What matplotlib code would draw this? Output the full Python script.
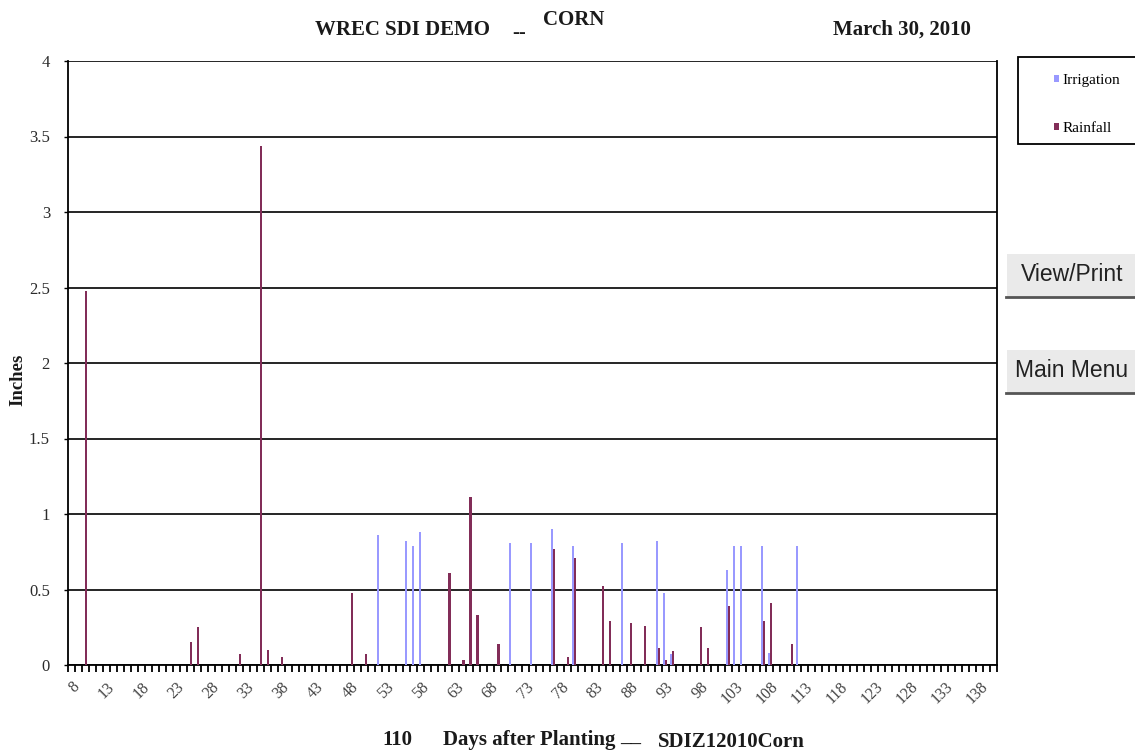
import numpy as np
import matplotlib
matplotlib.use("Agg")
import matplotlib.pyplot as plt
from matplotlib.patches import Rectangle, Patch

W, H = 1135, 752

# days after planting shown on the category axis
days = list(range(8, 141))

irrigation_days = [52, 56, 57, 58, 71, 74, 77, 80, 87, 92, 93, 94, 102, 103, 104, 107, 108, 112]
irrigation_inches = [0.86, 0.82, 0.79, 0.88, 0.81, 0.81, 0.90, 0.79, 0.81, 0.82, 0.48, 0.07,
                     0.63, 0.79, 0.79, 0.79, 0.08, 0.79]

rainfall_days = [10, 25, 26, 32, 35, 36, 38, 48, 50, 62, 64, 65, 66, 69, 77, 79, 80, 84, 85,
                 88, 90, 92, 93, 94, 98, 99, 102, 107, 108, 111]
rainfall_inches = [2.48, 0.15, 0.25, 0.07, 3.44, 0.10, 0.05, 0.48, 0.07, 0.61, 0.03, 1.11, 0.33,
                   0.14, 0.77, 0.05, 0.71, 0.52, 0.29, 0.28, 0.26, 0.11, 0.03, 0.09, 0.25, 0.11,
                   0.39, 0.29, 0.41, 0.14]

y_ticks = [0, 0.5, 1, 1.5, 2, 2.5, 3, 3.5, 4]
y_tick_labels = ["0", "0.5", "1", "1.5", "2", "2.5", "3", "3.5", "4"]

IRR_COLOR = "#9999FF"
RAIN_COLOR = "#822D58"
SERIF = "Liberation Serif"
SANS = "Liberation Sans"


def fx(x):
    return x / W


def fy(y):
    return 1 - y / H


# full daily series
irr = np.zeros(len(days))
rain = np.zeros(len(days))
for d, v in zip(irrigation_days, irrigation_inches):
    irr[days.index(d)] = v
for d, v in zip(rainfall_days, rainfall_inches):
    rain[days.index(d)] = v

fig = plt.figure(figsize=(W / 100, H / 100), dpi=100)
ax = fig.add_axes([fx(68), fy(665), fx(997) - fx(68), fy(61) - fy(665)])

idx = np.arange(len(days))
ax.bar(idx - 0.16, irr, width=0.28, color=IRR_COLOR, linewidth=0, zorder=3)
ax.bar(idx + 0.12, rain, width=0.32, color=RAIN_COLOR, linewidth=0, zorder=3)

ax.set_xlim(-0.5, len(days) - 0.5)
ax.set_ylim(0, 4)

ax.set_yticks(y_ticks)
ax.set_yticklabels(y_tick_labels, fontfamily=SERIF, fontsize=12, color="#2b2b2b")
ax.yaxis.grid(True, color="black", linewidth=1.2, zorder=1)
ax.tick_params(axis="y", direction="out", length=3, width=1, pad=10)

label_idx = idx[::5]
ax.set_xticks(label_idx)
ax.set_xticklabels([str(days[i]) for i in label_idx], fontfamily=SERIF, fontsize=11.5,
                   color="#444444", rotation=45, ha="right", rotation_mode="anchor")
ax.set_xticks(np.arange(len(days) + 1) - 0.5, minor=True)
ax.tick_params(axis="x", which="major", length=0, pad=10)
ax.tick_params(axis="x", which="minor", direction="out", length=5, width=1.3)

for side in ["left", "bottom", "right"]:
    ax.spines[side].set_color("black")
    ax.spines[side].set_linewidth(1.3)
ax.spines["top"].set_visible(False)

# titles
title_kw = dict(fontfamily=SERIF, fontweight="bold", fontsize=15, va="center", ha="left",
                color="#1a1a1a")
fig.text(fx(315), fy(30), "WREC SDI DEMO", **title_kw)
fig.text(fx(512), fy(33), "--", **title_kw)
fig.text(fx(543), fy(20), "CORN", **title_kw)
fig.text(fx(833), fy(30), "March 30, 2010", **title_kw)

fig.text(fx(18), fy(380), "Inches", fontfamily=SERIF, fontweight="bold",
         fontsize=13.5, va="center", ha="center", rotation=90, color="#1a1a1a")

fig.text(fx(382), fy(740), "110", **title_kw)
fig.text(fx(443), fy(740), "Days after Planting", **title_kw)
fig.text(fx(620), fy(737), "__", **title_kw)
fig.text(fx(658), fy(742), "SDIZ12010Corn", **title_kw)

# legend box
fig.patches.append(Rectangle((fx(1018), fy(144)), fx(1140) - fx(1018), fy(57) - fy(144),
                             transform=fig.transFigure, facecolor="white",
                             edgecolor="black", linewidth=1.3))
handles = [Patch(facecolor=IRR_COLOR, label="Irrigation"),
           Patch(facecolor=RAIN_COLOR, label="Rainfall")]
leg = fig.legend(handles=handles, loc="upper left", bbox_to_anchor=(fx(1046), fy(66)),
                 frameon=False, handlelength=0.35, handleheight=0.35, handletextpad=0.25,
                 labelspacing=2.3, borderpad=0, prop={"family": SERIF, "size": 11})

# buttons on the right
for top, bottom, label in [(254, 297, "View/Print"), (350, 393, "Main Menu")]:
    fig.patches.append(Rectangle((fx(1007), fy(bottom)), fx(1140) - fx(1007),
                                 fy(top) - fy(bottom), transform=fig.transFigure,
                                 facecolor="#EAEAEA", edgecolor="none"))
    fig.lines.append(plt.Line2D([fx(1006), fx(1135)], [fy(bottom), fy(bottom)],
                                transform=fig.transFigure, color="#555555", linewidth=2))
    fig.text(fx(1072), fy((top + bottom) / 2 - 1), label, fontfamily=SANS, fontsize=16.5,
             color="#222222", va="center", ha="center")

fig.savefig("out.png", dpi=100)
